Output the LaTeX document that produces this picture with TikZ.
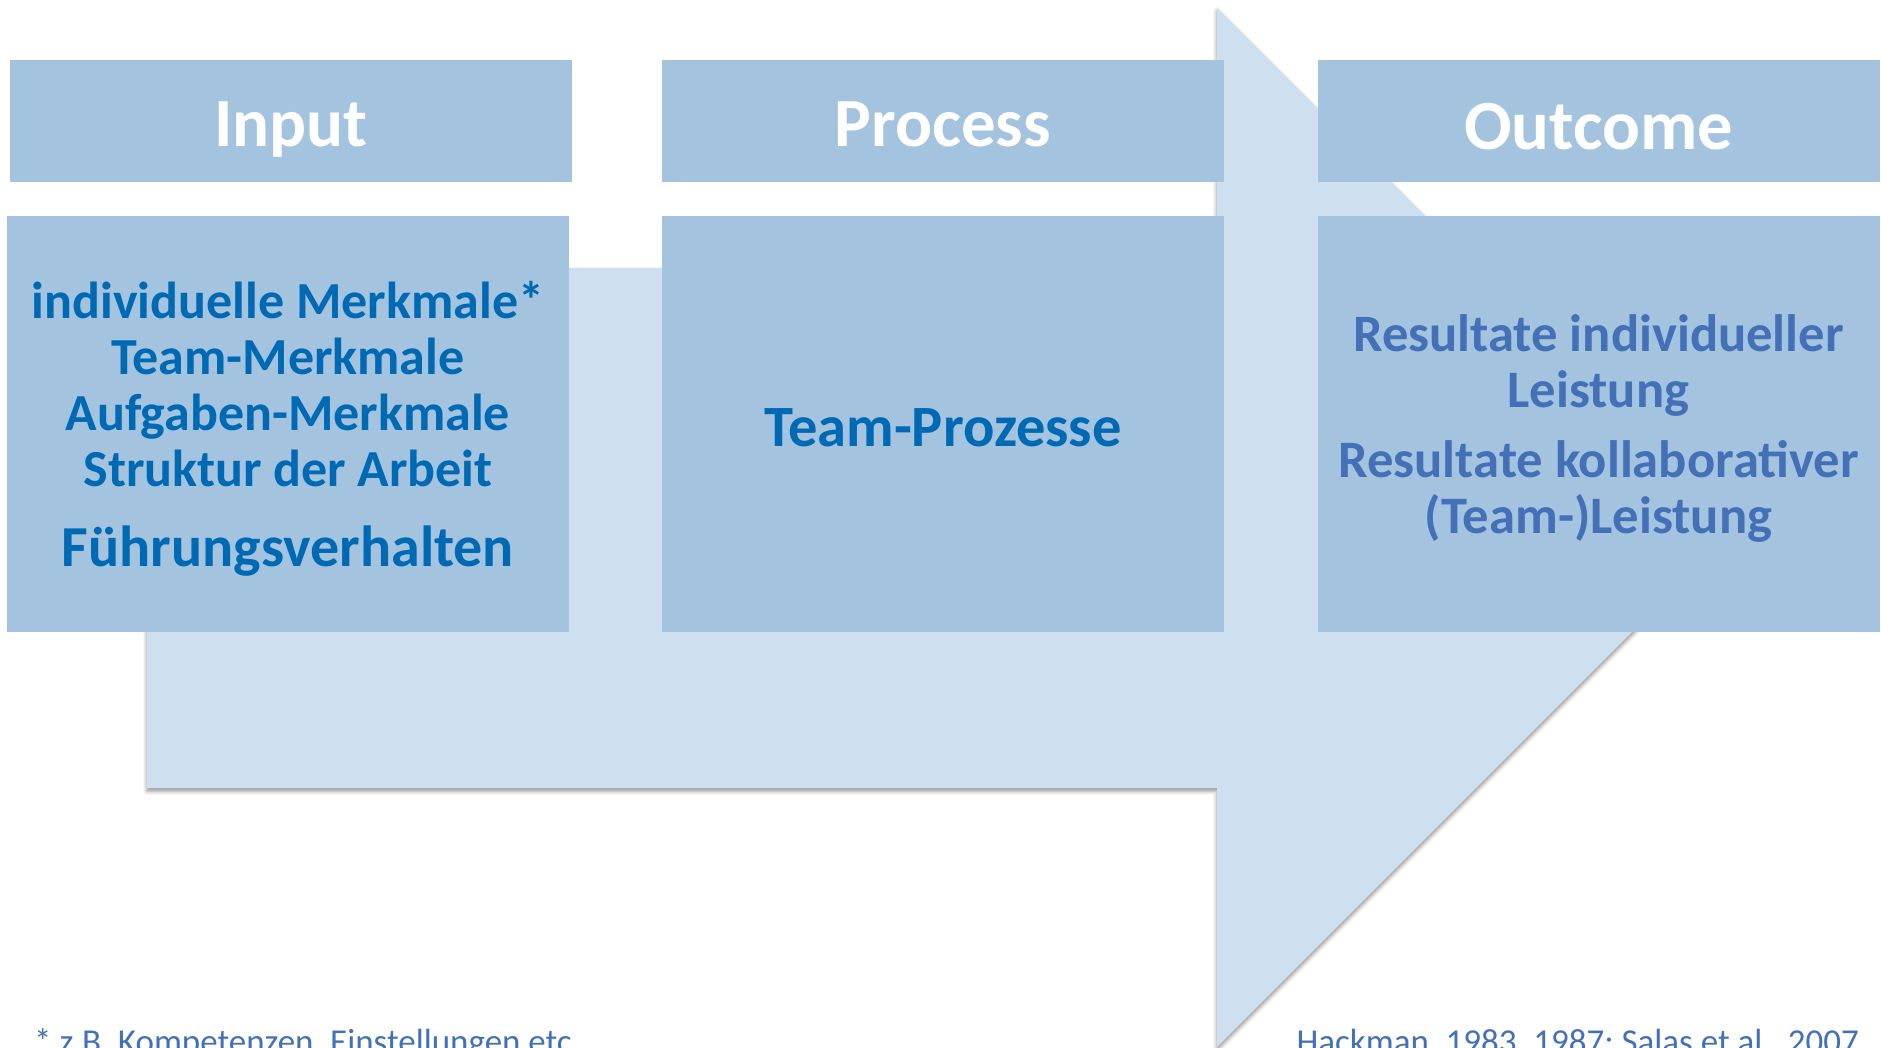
\documentclass[tikz,border=0pt]{standalone}
\usepackage{fontspec}
\setmainfont{Carlito}
\usetikzlibrary{shadows.blur}
\definecolor{boxblue}{HTML}{A3C3DF}
\definecolor{arrowblue}{HTML}{CEDFF0}
\definecolor{textblue}{HTML}{0069B4}
\definecolor{outblue}{HTML}{4470B8}

\begin{document}
\begin{tikzpicture}[x=1pt, y=-1pt,
  head/.style={rectangle, fill=boxblue, minimum width=562pt, minimum height=122pt, inner sep=0pt, text=white, font=\fontsize{69}{69}\selectfont\bfseries, text height=52pt, text depth=0pt},
  panel/.style={rectangle, fill=boxblue, minimum width=562pt, minimum height=416pt, inner sep=0pt},
  paneltext/.style={inner sep=0pt, align=center, text=textblue, font=\fontsize{52}{56}\selectfont\bfseries},
  foot/.style={inner sep=0pt, text=outblue, font=\fontsize{35}{35}\selectfont}]
\useasboundingbox (0,0) rectangle (1881,1048);
\clip (0,0) rectangle (1881,1048);
% big arrow behind the boxes
\fill[arrowblue, blur shadow={shadow xshift=0pt, shadow yshift=-3pt, shadow blur radius=4pt, shadow opacity=45}]
  (147,268) -- (1217,268) -- (1217,8) -- (1736.5,527.5) -- (1217,1047) -- (1217,788) -- (147,788) -- cycle;
% headers
\node[head] (inhead) at (291,121) {Input};
\node[head] (prochead) at (943,121) {Process};
\node[head, font=\fontsize{70.5}{70.5}\selectfont\bfseries, text height=57pt] (outhead) at (1598.5,121) {Outcome};
% panels
\node[panel] (inbody) at (288,424) {};
\node[panel] (procbody) at (943,424) {};
\node[panel] (outbody) at (1598.5,424) {};
\node[paneltext] (intext) at ([yshift=-5pt]inbody.center) {individuelle Merkmale*\\Team-Merkmale\\Aufgaben-Merkmale\\Struktur der Arbeit\\[24pt]{\fontsize{58}{58}\selectfont Führungsverhalten}};
\node[paneltext, font=\fontsize{58.5}{60}\selectfont\bfseries] (proctext) at ([yshift=-4pt]procbody.center) {Team-Prozesse};
\node[paneltext, text=outblue, font=\fontsize{52.6}{56}\selectfont\bfseries] (outtext) at ([yshift=-5pt]outbody.center) {Resultate individueller\\Leistung\\[14pt]Resultate kollaborativer\\(Team-)Leistung};
% sources
\node[foot, anchor=base west] (footnote) at (34,1053) {* z.B. Kompetenzen, Einstellungen etc.};
\node[foot, anchor=base east] (source) at (1859,1053) {Hackman, 1983, 1987; Salas et al., 2007};
\end{tikzpicture}
\end{document}
